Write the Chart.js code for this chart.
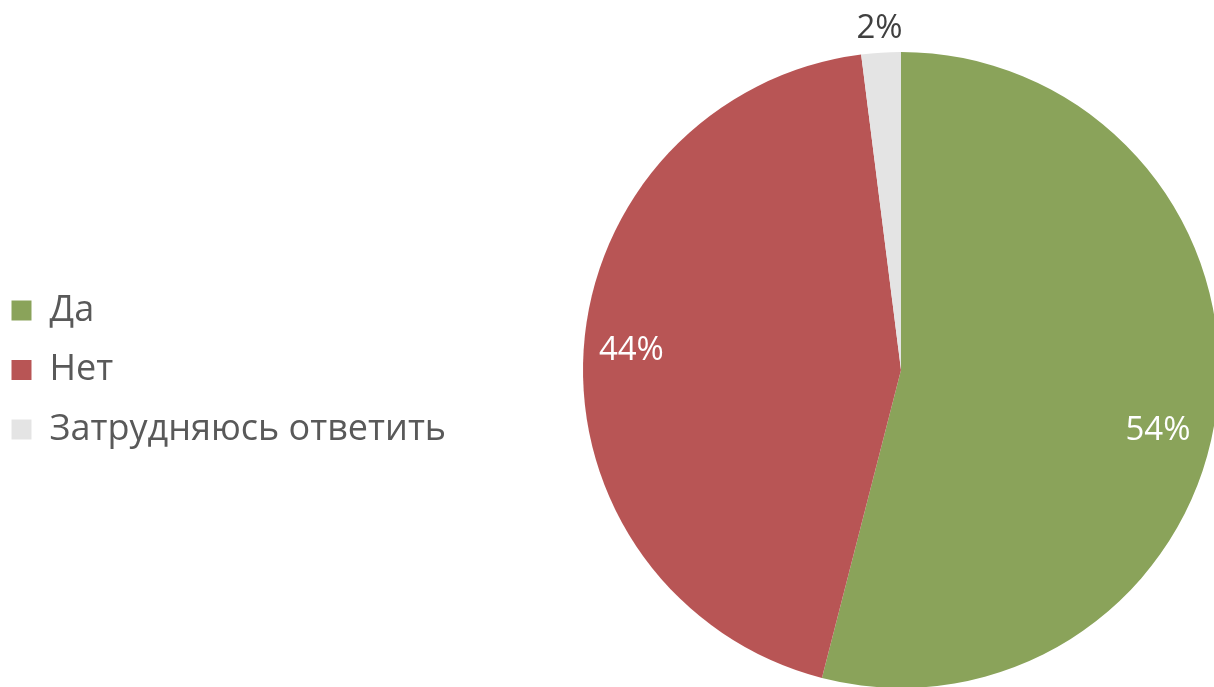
<!DOCTYPE html>
<html>
<head>
<meta charset="utf-8">
<script src="https://cdn.jsdelivr.net/npm/chart.js@4.4.1/dist/chart.umd.min.js"></script>
<style>
  html, body { margin: 0; padding: 0; background: #fff; overflow: hidden; }
  canvas { display: block; }
</style>
</head>
<body>
<canvas id="grafico" width="1230" height="740"></canvas>
<script>
const categorias = ['Да', 'Нет', 'Затрудняюсь ответить']
const valores = [54, 44, 2]
const rotulos = ['54%', '44%', '2%']
const cores = ['#8AA35A', '#B85555', '#E4E4E4']

const FONTE = "'Open Sans', 'DejaVu Sans', sans-serif"

// posição dos rótulos: fração do raio e desvio de ângulo (graus)
const posRotulos = [
  { r: 0.83, da: 6, cor: '#ffffff' },
  { r: 0.85, da: 0.5, cor: '#ffffff' },
  { r: 1.075, da: 0, cor: '#404040' }
]

const larguraLegenda = {
  id: 'larguraLegenda',
  beforeInit(chart) {
    const fit = chart.legend.fit
    chart.legend.fit = function () {
      fit.bind(chart.legend)()
      this.width = 584
    }
  }
}

const rotulosPizza = {
  id: 'rotulosPizza',
  afterDatasetsDraw(chart) {
    const ctx = chart.ctx
    const meta = chart.getDatasetMeta(0)
    ctx.save()
    ctx.font = `33px ${FONTE}`
    ctx.textAlign = 'center'
    ctx.textBaseline = 'middle'
    meta.data.forEach((arc, i) => {
      const { x, y, startAngle, endAngle, outerRadius } = arc.getProps(['x', 'y', 'startAngle', 'endAngle', 'outerRadius'], true)
      const p = posRotulos[i]
      const a = (startAngle + endAngle) / 2 + p.da * Math.PI / 180
      const r = outerRadius * p.r
      ctx.fillStyle = p.cor
      ctx.fillText(rotulos[i], x + Math.cos(a) * r, y + Math.sin(a) * r)
    })
    ctx.restore()
  }
}

new Chart(document.getElementById('grafico').getContext('2d'), {
  type: 'pie',
  data: {
    labels: categorias,
    datasets: [{
      data: valores,
      backgroundColor: cores,
      borderWidth: 0
    }]
  },
  options: {
    responsive: false,
    animation: false,
    layout: { padding: { top: 52, bottom: 52, left: -12, right: 0 } },
    plugins: {
      legend: {
        position: 'left',
        labels: {
          boxWidth: 20,
          boxHeight: 20,
          padding: 23.5,
          color: '#595959',
          font: { size: 36, family: FONTE }
        }
      },
      tooltip: { enabled: false }
    }
  },
  plugins: [larguraLegenda, rotulosPizza]
})
</script>
</body>
</html>
